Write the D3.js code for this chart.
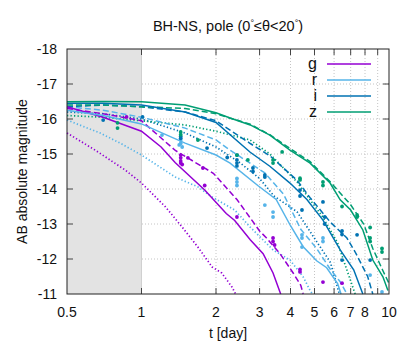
<!DOCTYPE html>
<html>
<head>
<meta charset="utf-8">
<script src="https://cdn.jsdelivr.net/npm/d3@7"></script>
<style>
  body { margin: 0; background: #fff; }
  text { font-family: "Liberation Sans", Arial, sans-serif; fill: #111; }
</style>
</head>
<body>
<div id="chart"></div>
<script>
// tick values
const xTicks = [0.5, 1, 2, 3, 4, 5, 6, 7, 8, 9, 10];
const xTickLabels = ['0.5', '1', '2', '3', '4', '5', '6', '7', '8', '', '10'];
const yTicks = [-18, -17, -16, -15, -14, -13, -12, -11];
const bands = ['g', 'r', 'i', 'z'];
const shadeRange = [0.5, 1];

// model curves [t (day), AB mag]
const gSolid = [[0.5,-16.35],[0.7,-16.05],[1.0,-15.65],[1.2,-15.2],[1.37,-14.75],[1.8,-13.97],[2.2,-13.3],[2.38,-13.1],[2.75,-12.55],[3.1,-12.15],[3.4,-11.6],[3.65,-11.0]];
const gDashed = [[0.5,-16.3],[0.7,-16.15],[1.0,-15.95],[1.37,-15.1],[1.95,-14.45],[2.43,-13.7],[3.0,-12.8],[3.2,-12.6],[3.63,-12.15],[4.1,-11.6],[4.4,-11.25],[4.5,-11.0]];
const gDotted = [[0.5,-15.6],[0.65,-15.11],[0.86,-14.54],[1.0,-14.17],[1.25,-13.49],[1.46,-12.91],[1.69,-12.34],[1.93,-11.77],[2.11,-11.6],[2.32,-11.2],[2.4,-11.0]];

const rSolid = [[0.5,-16.25],[0.7,-16.1],[1.0,-15.86],[1.5,-15.31],[2.0,-14.97],[2.28,-14.74],[2.95,-14.1],[3.5,-13.7],[4.0,-12.95],[4.5,-12.35],[5.1,-11.95],[5.6,-11.75],[6.2,-11.3],[6.4,-11.0]];
const rDashed = [[0.5,-16.35],[0.7,-16.25],[1.0,-16.05],[1.5,-15.74],[2.0,-15.4],[2.28,-15.11],[3.15,-14.46],[3.75,-13.85],[4.4,-12.85],[5.1,-12.3],[5.8,-11.7],[6.35,-11.35],[6.76,-11.0]];
const rDotted = [[0.5,-15.97],[0.68,-15.6],[0.82,-15.31],[1.0,-14.97],[1.37,-14.34],[1.69,-14.06],[1.93,-13.77],[2.38,-13.4],[2.75,-12.91],[3.4,-12.26],[3.98,-11.97],[4.5,-11.49],[4.8,-11.1],[4.9,-11.0]];

const iSolid = [[0.5,-16.45],[0.7,-16.45],[1.0,-16.4],[1.5,-16.2],[2.0,-15.9],[2.75,-15.05],[3.3,-14.65],[3.98,-14.17],[4.66,-13.7],[5.41,-13.11],[6.35,-12.26],[7.2,-11.69],[7.84,-11.0]];
const iDashed = [[0.5,-16.35],[0.7,-16.4],[1.0,-16.35],[1.5,-16.2],[2.0,-15.95],[2.75,-15.3],[3.3,-14.95],[4.25,-14.25],[4.8,-13.75],[5.8,-13.05],[6.76,-12.6],[7.3,-12.2],[8.2,-11.5],[8.6,-11.0]];
const iDotted = [[0.5,-16.2],[0.7,-16.15],[1.0,-16.0],[1.5,-15.6],[2.0,-15.2],[2.5,-14.75],[3.0,-14.3],[3.43,-13.8],[4.25,-13.35],[5.1,-12.5],[5.8,-11.9],[6.3,-11.0]];

const zSolid = [[0.5,-16.49],[0.7,-16.5],[1.0,-16.49],[1.5,-16.4],[2.0,-16.18],[2.28,-16.03],[2.75,-15.83],[3.3,-15.54],[3.98,-15.11],[4.8,-14.74],[5.78,-14.17],[6.35,-13.69],[7.0,-13.4],[7.84,-12.83],[8.6,-11.97],[9.45,-11.49],[9.9,-11.1]];
const zDashed = [[0.5,-16.4],[0.7,-16.4],[1.0,-16.35],[1.5,-16.3],[2.0,-16.15],[2.75,-15.85],[3.3,-15.55],[4.0,-15.15],[4.8,-14.78],[5.8,-14.2],[7.0,-13.55],[7.9,-13.0],[8.6,-12.3],[9.4,-11.7],[10,-11.3]];
const zDotted = [[0.5,-16.1],[0.7,-16.05],[1.0,-15.95],[1.5,-15.83],[2.0,-15.65],[2.75,-15.4],[3.3,-15.0],[4.25,-14.2],[5.4,-13.2],[6.2,-12.46],[6.9,-11.5],[7.3,-11.0]];

// observed points [t, mag]
const gObs = [[0.87,-16.06],[1.44,-14.97],[1.44,-14.89],[1.44,-14.8],[1.44,-14.74],[1.46,-14.7],[1.54,-14.89],[1.77,-14.6],[1.8,-14.1],[2.43,-13.2],[3.4,-12.5],[3.4,-12.6],[3.45,-12.4],[4.37,-11.7],[4.37,-11.63],[5.41,-11.34],[6.46,-11.31]];
const rObs = [[1.21,-15.54],[1.42,-15.26],[1.44,-15.4],[1.44,-15.3],[1.46,-15.2],[2.43,-14.3],[2.43,-14.1],[2.43,-14.2],[3.15,-13.54],[3.4,-13.34],[3.4,-13.2],[4.45,-12.69],[4.45,-12.6],[4.45,-12.34],[5.41,-12.6],[5.41,-12.5],[8.39,-11.54],[9.37,-11.06]];
const iObs = [[0.7,-15.97],[1.01,-16.06],[1.44,-15.5],[1.44,-15.45],[1.84,-15.17],[2.22,-14.9],[2.43,-14.97],[2.43,-14.83],[2.43,-14.74],[2.43,-14.66],[2.82,-14.6],[2.82,-14.5],[3.15,-14.4],[3.15,-14.34],[4.37,-13.97],[4.37,-13.8],[4.45,-13.4],[5.41,-13.63],[5.5,-13.2],[5.5,-13.0],[6.46,-12.8],[6.46,-12.7],[6.46,-11.97],[7.43,-12.69],[8.39,-11.97]];
const zObs = [[0.8,-15.89],[0.8,-15.74],[1.44,-15.63],[1.44,-15.55],[1.69,-15.4],[2.43,-14.97],[2.69,-14.83],[3.4,-14.83],[3.4,-14.74],[3.7,-15.06],[4.37,-14.31],[4.37,-14.26],[5.41,-14.2],[5.41,-14.1],[6.46,-13.5],[7.43,-13.26],[7.43,-13.2],[8.39,-12.9],[8.39,-12.6],[8.39,-12.5],[9.37,-12.3],[9.37,-12.2]];

const colors = { g: '#9400d3', r: '#56b4e9', i: '#0072b2', z: '#009e73' };

const width = 415;
const height = 346;
const margin = { top: 49, right: 26, bottom: 52, left: 67 };

const svg = d3.select('#chart')
              .append('svg')
              .attr('width', width)
              .attr('height', height);

const x = d3.scaleLog()
            .domain([0.5, 10])
            .range([margin.left, width - margin.right]);
const y = d3.scaleLinear()
            .domain([-18, -11])
            .range([margin.top, height - margin.bottom]);

const x0 = x.range()[0], x1 = x.range()[1];
const y0 = y.range()[0], y1 = y.range()[1];

// grid
svg.append('g')
   .selectAll('line')
   .data(xTicks.filter(d => d > 1 && d < 10))
   .enter()
   .append('line')
   .attr('x1', d => x(d)).attr('x2', d => x(d))
   .attr('y1', y0).attr('y2', y1)
   .attr('stroke', '#c4c4c4')
   .attr('stroke-dasharray', '1,2');

svg.append('g')
   .selectAll('line')
   .data(yTicks.slice(1, -1))
   .enter()
   .append('line')
   .attr('x1', x0).attr('x2', x1)
   .attr('y1', d => y(d)).attr('y2', d => y(d))
   .attr('stroke', '#c4c4c4')
   .attr('stroke-dasharray', '1,2');

// shaded early-time region
svg.append('rect')
   .attr('x', x(shadeRange[0]))
   .attr('y', y0)
   .attr('width', x(shadeRange[1]) - x(shadeRange[0]))
   .attr('height', y1 - y0)
   .attr('fill', '#e3e3e3');

svg.append('line')
   .attr('x1', x(1)).attr('x2', x(1))
   .attr('y1', y0).attr('y2', y1)
   .attr('stroke', '#d0d0d0');

// model curves
const line = d3.line()
               .x(d => x(d[0]))
               .y(d => y(d[1]));

const curves = [
  { band: 'g', data: gDotted, style: 'dot' },
  { band: 'r', data: rDotted, style: 'dot' },
  { band: 'i', data: iDotted, style: 'dot' },
  { band: 'z', data: zDotted, style: 'dot' },
  { band: 'g', data: gDashed, style: 'dash' },
  { band: 'r', data: rDashed, style: 'dash' },
  { band: 'i', data: iDashed, style: 'dash' },
  { band: 'z', data: zDashed, style: 'dash' },
  { band: 'g', data: gSolid, style: 'solid' },
  { band: 'r', data: rSolid, style: 'solid' },
  { band: 'i', data: iSolid, style: 'solid' },
  { band: 'z', data: zSolid, style: 'solid' }
];

const plot = svg.append('g');

plot.selectAll('path')
    .data(curves)
    .enter()
    .append('path')
    .attr('d', d => line(d.data))
    .attr('fill', 'none')
    .attr('stroke', d => colors[d.band])
    .attr('stroke-width', d => d.style === 'dot' ? 1.7 : 1.5)
    .attr('stroke-linecap', 'butt')
    .attr('stroke-dasharray', d => {
      if (d.style === 'dash') return '6,3';
      if (d.style === 'dot') return '1.3,2.2';
      return null;
    });

// observations
const obs = [
  { band: 'g', data: gObs },
  { band: 'r', data: rObs },
  { band: 'i', data: iObs },
  { band: 'z', data: zObs }
];

obs.forEach(o => {
  plot.append('g')
      .selectAll('circle')
      .data(o.data)
      .enter()
      .append('circle')
      .attr('cx', d => x(d[0]))
      .attr('cy', d => y(d[1]))
      .attr('r', 1.9)
      .attr('fill', colors[o.band]);
});

// frame and ticks
const tickLen = 6;
const tickG = svg.append('g').attr('stroke', '#444').attr('stroke-width', 1);

xTicks.filter(d => d > 0.5 && d < 10).forEach(d => {
  tickG.append('line').attr('x1', x(d)).attr('x2', x(d)).attr('y1', y1).attr('y2', y1 - tickLen);
  tickG.append('line').attr('x1', x(d)).attr('x2', x(d)).attr('y1', y0).attr('y2', y0 + tickLen);
});
yTicks.slice(1, -1).forEach(d => {
  tickG.append('line').attr('x1', x0).attr('x2', x0 + tickLen).attr('y1', y(d)).attr('y2', y(d));
  tickG.append('line').attr('x1', x1).attr('x2', x1 - tickLen).attr('y1', y(d)).attr('y2', y(d));
});

svg.append('rect')
   .attr('x', x0).attr('y', y0)
   .attr('width', x1 - x0).attr('height', y1 - y0)
   .attr('fill', 'none')
   .attr('stroke', '#222')
   .attr('stroke-width', 1);

// tick labels
svg.append('g')
   .selectAll('text')
   .data(xTicks)
   .enter()
   .append('text')
   .attr('x', d => x(d))
   .attr('y', y1 + 23)
   .attr('text-anchor', 'middle')
   .style('font-size', '14px')
   .text((d, i) => xTickLabels[i]);

svg.append('g')
   .selectAll('text')
   .data(yTicks)
   .enter()
   .append('text')
   .attr('x', x0 - 10)
   .attr('y', d => y(d) + 5)
   .attr('text-anchor', 'end')
   .style('font-size', '14px')
   .text(d => d);

// axis titles
svg.append('text')
   .attr('x', (x0 + x1) / 2)
   .attr('y', 338)
   .attr('text-anchor', 'middle')
   .style('font-size', '14px')
   .text('t [day]');

svg.append('text')
   .attr('transform', 'translate(27,' + (y0 + y1) / 2 + ') rotate(-90)')
   .attr('text-anchor', 'middle')
   .style('font-size', '14px')
   .text('AB absolute magnitude');

const title = svg.append('text')
   .attr('x', (x0 + x1) / 2)
   .attr('y', 31)
   .attr('text-anchor', 'middle')
   .style('font-size', '14.5px');
title.append('tspan').text('BH-NS, pole (0');
title.append('tspan').attr('dy', -5).style('font-size', '9px').text('°');
title.append('tspan').attr('dy', 5).text('≤θ<20');
title.append('tspan').attr('dy', -5).style('font-size', '9px').text('°');
title.append('tspan').attr('dy', 5).text(')');

// legend
const legend = svg.append('g')
                  .selectAll('g')
                  .data(bands)
                  .enter()
                  .append('g')
                  .attr('transform', (d, i) => 'translate(0,' + (64 + i * 16) + ')');

legend.append('text')
      .attr('x', 317)
      .attr('y', 5)
      .attr('text-anchor', 'end')
      .style('font-size', '16px')
      .text(d => d);

legend.append('line')
      .attr('x1', 327).attr('x2', 371)
      .attr('y1', 0).attr('y2', 0)
      .attr('stroke', d => colors[d])
      .attr('stroke-width', 1.5);
</script>
</body>
</html>
